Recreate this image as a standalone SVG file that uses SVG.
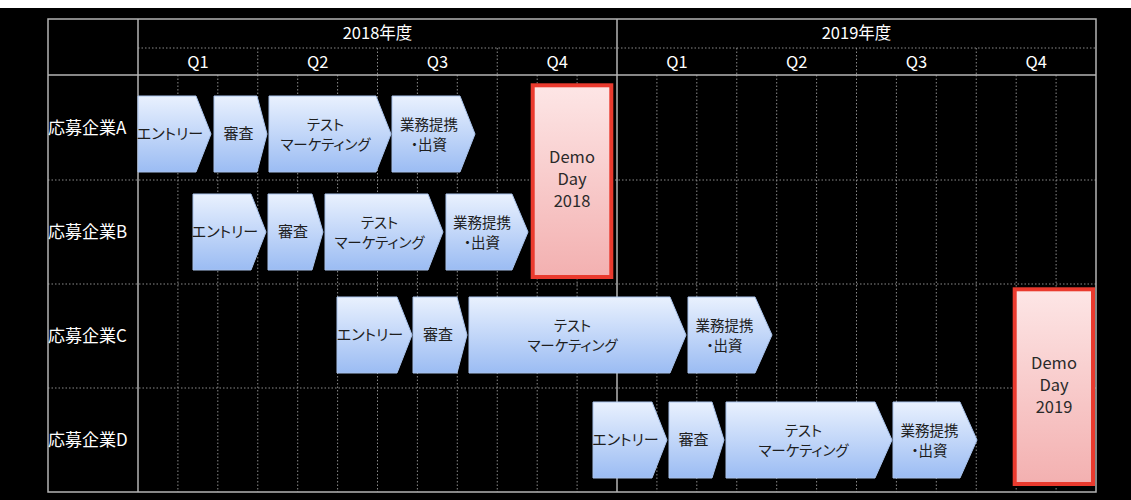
<svg xmlns="http://www.w3.org/2000/svg" width="1131" height="500" viewBox="0 0 1131 500">
<defs>
<linearGradient id="gBlue" x1="0" y1="0" x2="0" y2="1">
<stop offset="0" stop-color="#e9f1fe"/>
<stop offset="1" stop-color="#9bbcf3"/>
</linearGradient>
<linearGradient id="gRed" x1="0" y1="0" x2="0" y2="1">
<stop offset="0" stop-color="#fde6e6"/>
<stop offset="1" stop-color="#f3b0b0"/>
</linearGradient>
</defs>
<style>
text{font-family:"Noto Sans CJK JP","Noto Sans",sans-serif;font-feature-settings:"palt";}
.hd{fill:#ffffff;font-size:16.5px;text-anchor:middle;}
.rl{fill:#ffffff;font-size:17px;}
.ch{fill:url(#gBlue);stroke:#a9c3ec;stroke-width:1;}
.ct{fill:#1e1e1e;font-size:15px;text-anchor:middle;}
.c2{fill:#1e1e1e;font-size:14.5px;text-anchor:middle;}
.dd{fill:url(#gRed);stroke:#ea3a2e;stroke-width:4;}
.dt{fill:#2a2a2a;font-size:16.5px;text-anchor:middle;}
.solid{stroke:#b4b4b4;stroke-width:1.5;fill:none;}
.dot{stroke:#8a8a8a;stroke-width:1;stroke-dasharray:1.5 2;fill:none;}
</style>
<rect x="0" y="0" width="1131" height="500" fill="#000"/>
<rect x="0" y="0" width="1131" height="8" fill="#fff"/>
<g id="grid">
<path class="dot" d="M138 48H1096M48 180H1096M48 284H1096M48 388H1096"/>
<path class="dot" d="M257.75 48V75M377.5 48V75M497.25 48V75M736.75 48V75M856.5 48V75M976.25 48V75"/>
<path class="dot" d="M177.9 75V492M217.8 75V492M257.75 75V492M297.7 75V492M337.6 75V492M377.5 75V492M417.4 75V492M457.3 75V492M497.25 75V492M537.2 75V492M577.1 75V492M656.9 75V492M696.8 75V492M736.75 75V492M776.7 75V492M816.6 75V492M856.5 75V492M896.4 75V492M936.3 75V492M976.25 75V492M1016.2 75V492M1056.1 75V492"/>
<rect class="solid" x="48" y="19" width="1048" height="473"/>
<path class="solid" d="M138 19V492M617 19V492M48 75H1096"/>
</g>
<g id="header">
<text class="hd" x="377.5" y="39">2018年度</text>
<text class="hd" x="856.5" y="39">2019年度</text>
<text class="hd" x="198" y="68">Q1</text>
<text class="hd" x="317.6" y="68">Q2</text>
<text class="hd" x="437.4" y="68">Q3</text>
<text class="hd" x="557.1" y="68">Q4</text>
<text class="hd" x="676.9" y="68">Q1</text>
<text class="hd" x="796.6" y="68">Q2</text>
<text class="hd" x="916.4" y="68">Q3</text>
<text class="hd" x="1036.1" y="68">Q4</text>
</g>
<g id="row-labels">
<text class="rl" x="48" y="134">応募企業A</text>
<text class="rl" x="48" y="238">応募企業B</text>
<text class="rl" x="48" y="342">応募企業C</text>
<text class="rl" x="48" y="446">応募企業D</text>
</g>
<g id="A-entry"><polygon class="ch" points="138,96 196,96 211,134 196,172 138,172"/><text class="ct" x="170" y="139">エントリー</text></g>
<g id="A-review"><polygon class="ch" points="214,96 257,96 267,134 257,172 214,172"/><text class="ct" x="238.5" y="139">審査</text></g>
<g id="A-test"><polygon class="ch" points="269,96 376,96 391,134 376,172 269,172"/><text class="c2" x="325.5" y="130">テスト</text><text class="c2" x="325.5" y="150">マーケティング</text></g>
<g id="A-biz"><polygon class="ch" points="392,96 460,96 475,134 460,172 392,172"/><text class="c2" x="429" y="130">業務提携</text><text class="c2" x="429" y="150">・出資</text></g>
<g id="B-entry"><polygon class="ch" points="193,194 251,194 266,232 251,270 193,270"/><text class="ct" x="225" y="237">エントリー</text></g>
<g id="B-review"><polygon class="ch" points="268,194 312,194 323,232 312,270 268,270"/><text class="ct" x="293" y="237">審査</text></g>
<g id="B-test"><polygon class="ch" points="325,194 428,194 443,232 428,270 325,270"/><text class="c2" x="379.5" y="228">テスト</text><text class="c2" x="379.5" y="248">マーケティング</text></g>
<g id="B-biz"><polygon class="ch" points="446,194 512,194 528,232 512,270 446,270"/><text class="c2" x="482" y="228">業務提携</text><text class="c2" x="482" y="248">・出資</text></g>
<g id="C-entry"><polygon class="ch" points="337,297 397,297 412,335 397,373 337,373"/><text class="ct" x="370" y="340">エントリー</text></g>
<g id="C-review"><polygon class="ch" points="413,297 457,297 467,335 457,373 413,373"/><text class="ct" x="438" y="340">審査</text></g>
<g id="C-test"><polygon class="ch" points="469,297 670,297 686,335 670,373 469,373"/><text class="c2" x="572.5" y="331">テスト</text><text class="c2" x="572.5" y="351">マーケティング</text></g>
<g id="C-biz"><polygon class="ch" points="688,297 755,297 772,335 755,373 688,373"/><text class="c2" x="724.5" y="331">業務提携</text><text class="c2" x="724.5" y="351">・出資</text></g>
<g id="D-entry"><polygon class="ch" points="593,402 652,402 667,440 652,478 593,478"/><text class="ct" x="625.5" y="445">エントリー</text></g>
<g id="D-review"><polygon class="ch" points="669,402 712,402 724,440 712,478 669,478"/><text class="ct" x="693.5" y="445">審査</text></g>
<g id="D-test"><polygon class="ch" points="726,402 875,402 892,440 875,478 726,478"/><text class="c2" x="803.5" y="436">テスト</text><text class="c2" x="803.5" y="456">マーケティング</text></g>
<g id="D-biz"><polygon class="ch" points="893,402 960,402 977,440 960,478 893,478"/><text class="c2" x="929.5" y="436">業務提携</text><text class="c2" x="929.5" y="456">・出資</text></g>
<g id="demo-2018"><rect class="dd" x="532.7" y="85.3" width="78.6" height="191.7"/><text class="dt" x="572" y="163">Demo</text><text class="dt" x="572" y="185">Day</text><text class="dt" x="572" y="207">2018</text></g>
<g id="demo-2019"><rect class="dd" x="1014.7" y="289.3" width="78.3" height="194.7"/><text class="dt" x="1054" y="369">Demo</text><text class="dt" x="1054" y="391">Day</text><text class="dt" x="1054" y="413">2019</text></g>
</svg>
